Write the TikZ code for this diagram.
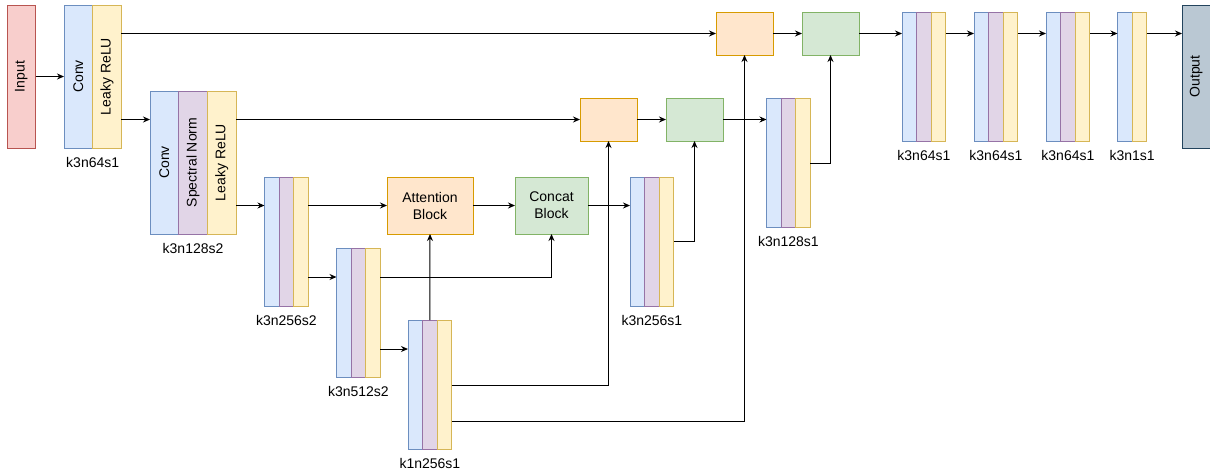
\documentclass[tikz,border=0pt]{standalone}
\usepackage{fontspec}
\setmainfont{Liberation Sans}
\usepackage{tikz}
\usetikzlibrary{arrows.meta,positioning}
\definecolor{cvfill}{HTML}{DAE8FC}
\definecolor{cvline}{HTML}{6C8EBF}
\definecolor{snfill}{HTML}{E1D5E7}
\definecolor{snline}{HTML}{9673A6}
\definecolor{lrfill}{HTML}{FFF2CC}
\definecolor{lrline}{HTML}{D6B656}
\definecolor{atfill}{HTML}{FFE6CC}
\definecolor{atline}{HTML}{D79B00}
\definecolor{ctfill}{HTML}{D5E8D4}
\definecolor{ctline}{HTML}{82B366}
\definecolor{infill}{HTML}{F8CECC}
\definecolor{inline}{HTML}{B85450}
\definecolor{outfill}{HTML}{BAC8D3}
\definecolor{outline}{HTML}{23445D}

\begin{document}
\begin{tikzpicture}[x=1pt,y=-1pt,
  font=\fontsize{14}{17}\selectfont,
  strip/.style={draw,line width=1pt,inner sep=0pt,outer sep=0pt,anchor=north west,
                minimum width=14.6pt,minimum height=129pt},
  wide/.style={minimum width=28.7pt,minimum height=143pt},
  cv/.style={strip,draw=cvline,fill=cvfill},
  sn/.style={strip,draw=snline,fill=snfill},
  lr/.style={strip,draw=lrline,fill=lrfill},
  box/.style={draw,line width=1pt,inner sep=0pt,outer sep=0pt,align=center,
              minimum width=57pt,minimum height=43pt},
  atbox/.style={box,draw=atline,fill=atfill},
  ctbox/.style={box,draw=ctline,fill=ctfill},
  captxt/.style={inner sep=0pt},
  arr/.style={line width=1pt,-{Stealth[length=7pt,width=6pt]}},
]
  \useasboundingbox (0,0) rectangle (1210,475);

  % input / output
  \node[strip,wide,minimum width=28.5pt,draw=inline,fill=infill] (in) at (7,5)
    {\rotatebox{90}{Input}};
  \node[strip,wide,minimum width=28.5pt,draw=outline,fill=outfill] (out) at (1182,5)
    {\rotatebox{90}{Output}};

  % encoder
  \node[cv,wide] (b1c) at (64,5) {\rotatebox{90}{Conv}};
  \node[lr,wide] (b1l) at (b1c.north east) {\rotatebox{90}{Leaky ReLU}};
  \node[captxt,below=9pt of b1c.south east] (b1t) {k3n64s1};

  \node[cv,wide] (b2c) at (150,91) {\rotatebox{90}{Conv}};
  \node[sn,wide] (b2s) at (b2c.north east) {\rotatebox{90}{Spectral Norm}};
  \node[lr,wide] (b2l) at (b2s.north east) {\rotatebox{90}{Leaky ReLU}};
  \node[captxt,below=9pt of b2s] (b2t) {k3n128s2};

  \node[cv] (b3c) at (264.5,177) {};
  \node[sn] (b3s) at (b3c.north east) {};
  \node[lr] (b3l) at (b3s.north east) {};
  \node[captxt,below=9pt of b3s] (b3t) {k3n256s2};

  \node[cv] (b4c) at (336.5,248) {};
  \node[sn] (b4s) at (b4c.north east) {};
  \node[lr] (b4l) at (b4s.north east) {};
  \node[captxt,below=9pt of b4s] (b4t) {k3n512s2};

  \node[cv] (b5c) at (408,320) {};
  \node[sn] (b5s) at (b5c.north east) {};
  \node[lr] (b5l) at (b5s.north east) {};
  \node[captxt,below=9pt of b5s] (b5t) {k1n256s1};

  % attention and merge boxes
  \node[atbox,minimum width=86pt,minimum height=57pt] (att) at (430,205.5) {Attention\\Block};
  \node[ctbox,minimum width=73pt,minimum height=57pt] (cat) at (551.5,205.5) {Concat\\Block};
  \node[atbox] (o2) at (608.5,119.5) {};
  \node[ctbox] (g2) at (694.5,119.5) {};
  \node[atbox] (o1) at (744.5,33.5) {};
  \node[ctbox] (g1) at (830.5,33.5) {};

  % decoder
  \node[cv] (b6c) at (630,177) {};
  \node[sn] (b6s) at (b6c.north east) {};
  \node[lr] (b6l) at (b6s.north east) {};
  \node[captxt,below=9pt of b6s] (b6t) {k3n256s1};

  \node[cv] (b7c) at (766.5,98) {};
  \node[sn] (b7s) at (b7c.north east) {};
  \node[lr] (b7l) at (b7s.north east) {};
  \node[captxt,below=9pt of b7s] (b7t) {k3n128s1};

  \node[cv] (b8c) at (902,12) {};
  \node[sn] (b8s) at (b8c.north east) {};
  \node[lr] (b8l) at (b8s.north east) {};
  \node[captxt,below=9pt of b8s] (b8t) {k3n64s1};

  \node[cv] (b9c) at (974,12) {};
  \node[sn] (b9s) at (b9c.north east) {};
  \node[lr] (b9l) at (b9s.north east) {};
  \node[captxt,below=9pt of b9s] (b9t) {k3n64s1};

  \node[cv] (b10c) at (1046,12) {};
  \node[sn] (b10s) at (b10c.north east) {};
  \node[lr] (b10l) at (b10s.north east) {};
  \node[captxt,below=9pt of b10s] (b10t) {k3n64s1};

  \node[cv] (b11c) at (1117.5,12) {};
  \node[lr] (b11l) at (b11c.north east) {};
  \node[captxt,below=9pt of b11c.south east] (b11t) {k3n1s1};

  % lanes for the side outputs
  \coordinate (laneD) at (0,277);
  \coordinate (laneE) at (0,349);
  \coordinate (laneF) at (0,385);
  \coordinate (laneG) at (0,421);
  \coordinate (laneH) at (0,241.5);
  \coordinate (laneI) at (0,163);

  % connectors
  \draw[arr] (in.east) -- (b1c.west);
  \draw[arr] (b1l.east |- o1.west) -- (o1.west);
  \draw[arr] (b1l.east |- o2.west) -- (b2c.west |- o2.west);
  \draw[arr] (b2l.east |- o2.west) -- (o2.west);
  \draw[arr] (b2l.east |- att.west) -- (b3c.west |- att.west);
  \draw[arr] (b3l.east |- att.west) -- (att.west);
  \draw[arr] (b3l.east |- laneD) -- (b4c.west |- laneD);
  \draw[arr] (b4l.east |- laneD) -| (cat.south);
  \draw[arr] (b4l.east |- laneE) -- (b5c.west |- laneE);
  \draw[arr] (b5s.north) -- (att.south);
  \draw[arr] (b5l.east |- laneF) -| (o2.south);
  \draw[arr] (b5l.east |- laneG) -| (o1.south);
  \draw[arr] (att.east) -- (cat.west);
  \draw[arr] (cat.east) -- (b6c.west |- cat.east);
  \draw[arr] (b6l.east |- laneH) -| (g2.south);
  \draw[arr] (o2.east) -- (g2.west);
  \draw[arr] (g2.east) -- (b7c.west |- g2.east);
  \draw[arr] (b7l.east |- laneI) -| (g1.south);
  \draw[arr] (o1.east) -- (g1.west);
  \draw[arr] (g1.east) -- (b8c.west |- g1.east);
  \draw[arr] (b8l.east |- g1.east) -- (b9c.west |- g1.east);
  \draw[arr] (b9l.east |- g1.east) -- (b10c.west |- g1.east);
  \draw[arr] (b10l.east |- g1.east) -- (b11c.west |- g1.east);
  \draw[arr] (b11l.east |- g1.east) -- (out.west |- g1.east);
\end{tikzpicture}
\end{document}
